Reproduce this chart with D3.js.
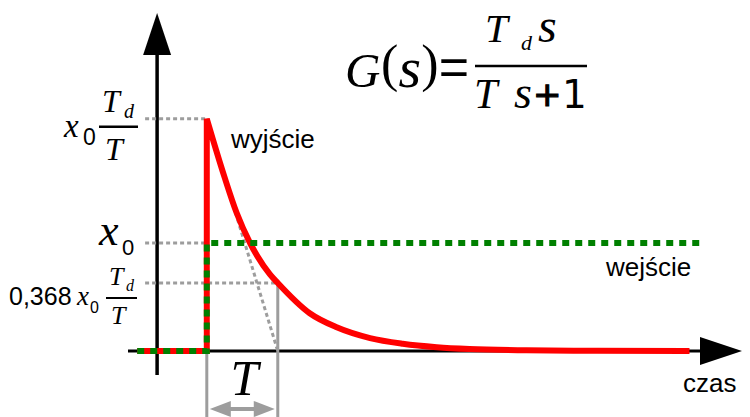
<!DOCTYPE html>
<html>
<head>
<meta charset="utf-8">
<script src="https://cdn.jsdelivr.net/npm/d3@7"></script>
<style>
  html, body { margin: 0; padding: 0; background: #fff; }
  svg { display: block; }
  .serif { font-family: "Liberation Serif", "DejaVu Serif", serif; font-style: italic; }
  .sans { font-family: "Liberation Sans", Arial, sans-serif; }
  .num { font-family: "DejaVu Sans", sans-serif; font-style: normal; }
  .up { font-family: "Liberation Serif", serif; font-style: normal; }
</style>
</head>
<body>
<svg id="chart" width="750" height="417"></svg>
<script>
// Step response of a real differentiating element, G(s) = Td s / (T s + 1)
// Time in units of the time constant T (step applied at t = 0).

// Output (wyjście): jump to x0·Td/T followed by exponential decay
const outTime  = [-0.98, 0, 0, 0.25, 0.42, 0.61, 0.89, 1.0, 1.45, 1.83, 2.30, 2.76, 3.24, 3.70, 4.50, 5.50, 6.80];
const outValue = [0, 0, 2.15, 1.61, 1.28, 1.00, 0.71, 0.63, 0.35, 0.22, 0.12, 0.068, 0.036, 0.019, 0.007, 0.002, 0];

// Input (wejście): step of height x0
const inTime  = [-0.98, 0, 0, 7.02];
const inValue = [0, 0, 1, 1];

// Reference levels marked on the vertical axis
const levelValues = [2.15, 1.0, 0.63];   // x0·Td/T, x0, 0,368·x0·Td/T
const timeConstant = 1.0;                 // T

// Text labels
const outputLabel = "wyjście";
const inputLabel  = "wejście";
const timeLabel   = "czas";

const svg = d3.select("#chart");

const x = d3.scaleLinear().domain([-1.11, 7.54]).range([128, 742]);
const y = d3.scaleLinear().domain([-0.222, 3.13]).range([375, 13]);

const guide = "#9d9d9d";
const yAxisT = -0.7;

// ---- axes with arrowheads ----
const axisG = svg.append("g");
axisG.append("g")
  .attr("transform", `translate(0,${y(0)})`)
  .call(d3.axisBottom(x).tickValues([]).tickSizeOuter(0))
  .call(g => g.select(".domain")
    .attr("d", `M${x.range()[0]},0H${x.range()[1] - 42}`)
    .attr("stroke", "#000").attr("stroke-width", 3));
axisG.append("path")
  .attr("d", `M${x.range()[1]},${y(0)}L${x.range()[1] - 42},${y(0) - 14}L${x.range()[1] - 42},${y(0) + 14}Z`)
  .attr("fill", "#000");

axisG.append("g")
  .attr("transform", `translate(${x(yAxisT)},0)`)
  .call(d3.axisLeft(y).tickValues([]).tickSizeOuter(0))
  .call(g => g.select(".domain")
    .attr("d", `M0,${y.range()[0]}V${y.range()[1] + 42}`)
    .attr("stroke", "#000").attr("stroke-width", 3.5));
axisG.append("path")
  .attr("d", `M${x(yAxisT)},${y.range()[1]}L${x(yAxisT) - 14},${y.range()[1] + 42}L${x(yAxisT) + 14},${y.range()[1] + 42}Z`)
  .attr("fill", "#000");

// ---- guide lines ----
const guides = svg.append("g").attr("fill", "none").attr("stroke", guide);
const gx0 = x(yAxisT) - 12;
function dotted(x1, y1, x2, y2) {
  guides.append("line").attr("x1", x1).attr("y1", y1).attr("x2", x2).attr("y2", y2)
    .attr("stroke-width", 3).attr("stroke-dasharray", "4,3");
}
dotted(gx0, y(levelValues[0]), x(0), y(levelValues[0]));
dotted(gx0, y(levelValues[1]), x(0), y(levelValues[1]));
dotted(gx0, y(levelValues[2]), x(timeConstant), y(levelValues[2]));
// tangent at the jump, reaching zero at t = T
dotted(x(0), y(levelValues[0]), x(timeConstant), y(0));
// solid extension lines for the T dimension
guides.append("line").attr("x1", x(timeConstant)).attr("x2", x(timeConstant))
  .attr("y1", y(levelValues[2]) - 1.5).attr("y2", 417).attr("stroke-width", 3);
guides.append("line").attr("x1", x(0)).attr("x2", x(0))
  .attr("y1", y(0)).attr("y2", 417).attr("stroke-width", 3);

// dimension arrow for T
const dimY = 409;
guides.append("line").attr("x1", x(0) + 14).attr("x2", x(timeConstant) - 14)
  .attr("y1", dimY).attr("y2", dimY).attr("stroke-width", 4);
svg.append("path")
  .attr("d", `M${x(0) + 3},${dimY}L${x(0) + 24},${dimY - 8}L${x(0) + 24},${dimY + 8}Z`)
  .attr("fill", guide);
svg.append("path")
  .attr("d", `M${x(timeConstant) - 3},${dimY}L${x(timeConstant) - 24},${dimY - 8}L${x(timeConstant) - 24},${dimY + 8}Z`)
  .attr("fill", guide);

// ---- output curve (red) ----
const outPts = outTime.map((t, i) => [t, outValue[i]]);
const linear = d3.line().x(d => x(d[0])).y(d => y(d[1]));
const smooth = d3.line().x(d => x(d[0])).y(d => y(d[1])).curve(d3.curveMonotoneX);
svg.append("path")
  .attr("d", linear(outPts.slice(0, 3)) + smooth(outPts.slice(2)).replace(/^M/, "L"))
  .attr("fill", "none").attr("stroke", "#ff0000").attr("stroke-width", 6)
  .attr("stroke-linejoin", "miter");

// ---- input step (green dotted) ----
const inPts = inTime.map((t, i) => [t, inValue[i]]);
svg.append("path")
  .attr("d", linear(inPts))
  .attr("fill", "none").attr("stroke", "#008000").attr("stroke-width", 6)
  .attr("stroke-dasharray", "7,6");

// ---- labels ----
const txt = svg.append("g").attr("fill", "#000");

txt.append("text").attr("class", "sans").attr("font-size", 26)
  .attr("x", 231).attr("y", 148).text(outputLabel);
txt.append("text").attr("class", "sans").attr("font-size", 26)
  .attr("x", 606).attr("y", 276).text(inputLabel);
txt.append("text").attr("class", "sans").attr("font-size", 26)
  .attr("x", 683).attr("y", 392).text(timeLabel);

function bar(x1, x2, yy, w) {
  txt.append("line").attr("x1", x1).attr("x2", x2).attr("y1", yy).attr("y2", yy)
    .attr("stroke", "#000").attr("stroke-width", w);
}
// one text element built from absolutely placed pieces
function piece(parts) {
  const t = txt.append("text");
  parts.forEach(p => t.append("tspan")
    .attr("class", p.cls).attr("font-size", p.size)
    .attr("stroke", p.heavy ? "#000" : null)
    .attr("stroke-width", p.heavy ? 1.2 : null)
    .attr("x", p.x).attr("y", p.y).text(p.s));
  return t;
}

// level label: x0·Td/T
{
  const yy = y(levelValues[0]);
  piece([{ cls: "serif", size: 33, x: 64, y: yy + 18, s: "x" },
         { cls: "sans", size: 23, x: 83, y: yy + 26, s: "0" }]);
  piece([{ cls: "serif", size: 32, x: 102, y: yy - 7, s: "T" },
         { cls: "serif", size: 20, x: 124, y: yy - 1, s: "d" }]);
  bar(99, 138, yy + 8, 2.5);
  piece([{ cls: "serif", size: 32, x: 105, y: yy + 41, s: "T" }]);
}

// level label: x0
{
  const yy = y(levelValues[1]);
  piece([{ cls: "serif", size: 44, x: 99, y: yy + 2, s: "x" },
         { cls: "sans", size: 22, x: 122, y: yy + 12, s: "0" }]);
}

// level label: 0,368·x0·Td/T
{
  const yy = y(levelValues[2]);
  piece([{ cls: "sans", size: 25, x: 9, y: yy + 22, s: "0,368" },
         { cls: "serif", size: 27, x: 77, y: yy + 22, s: "x" },
         { cls: "sans", size: 16, x: 90, y: yy + 30, s: "0" }]);
  piece([{ cls: "serif", size: 26, x: 109, y: yy + 2, s: "T" },
         { cls: "serif", size: 16, x: 126, y: yy + 8, s: "d" }]);
  bar(106, 137, yy + 15, 2);
  piece([{ cls: "serif", size: 26, x: 111, y: yy + 41, s: "T" }]);
}

// dimension label T
txt.append("text").attr("class", "serif").attr("font-size", 50)
  .attr("x", (x(0) + x(timeConstant)) / 2 + 2).attr("y", 395).attr("text-anchor", "middle").text("T");

// transfer function G(s) = Td s / (T s + 1)
piece([{ cls: "serif", size: 49, x: 345, y: 87, s: "G" },
       { cls: "up", size: 52, x: 381, y: 81, s: "(" },
       { cls: "serif", size: 58, x: 398.5, y: 87, s: "s" },
       { cls: "up", size: 52, x: 421.2, y: 81, s: ")" },
       { cls: "sans", size: 52, x: 438.8, y: 85, s: "=" }]);
bar(475, 587, 66, 2.5);
piece([{ cls: "serif", size: 41, x: 485, y: 42, s: "T" },
       { cls: "serif", size: 22, x: 521, y: 50, s: "d" },
       { cls: "serif", size: 48, x: 538, y: 42, s: "s" }]);
piece([{ cls: "serif", size: 42, x: 474, y: 108, s: "T" },
       { cls: "serif", size: 46, x: 514, y: 108, s: "s" },
       { cls: "num", size: 34, heavy: true, x: 533, y: 106, s: "+" },
       { cls: "num", size: 39, x: 562, y: 108, s: "1" }]);
</script>
</body>
</html>
